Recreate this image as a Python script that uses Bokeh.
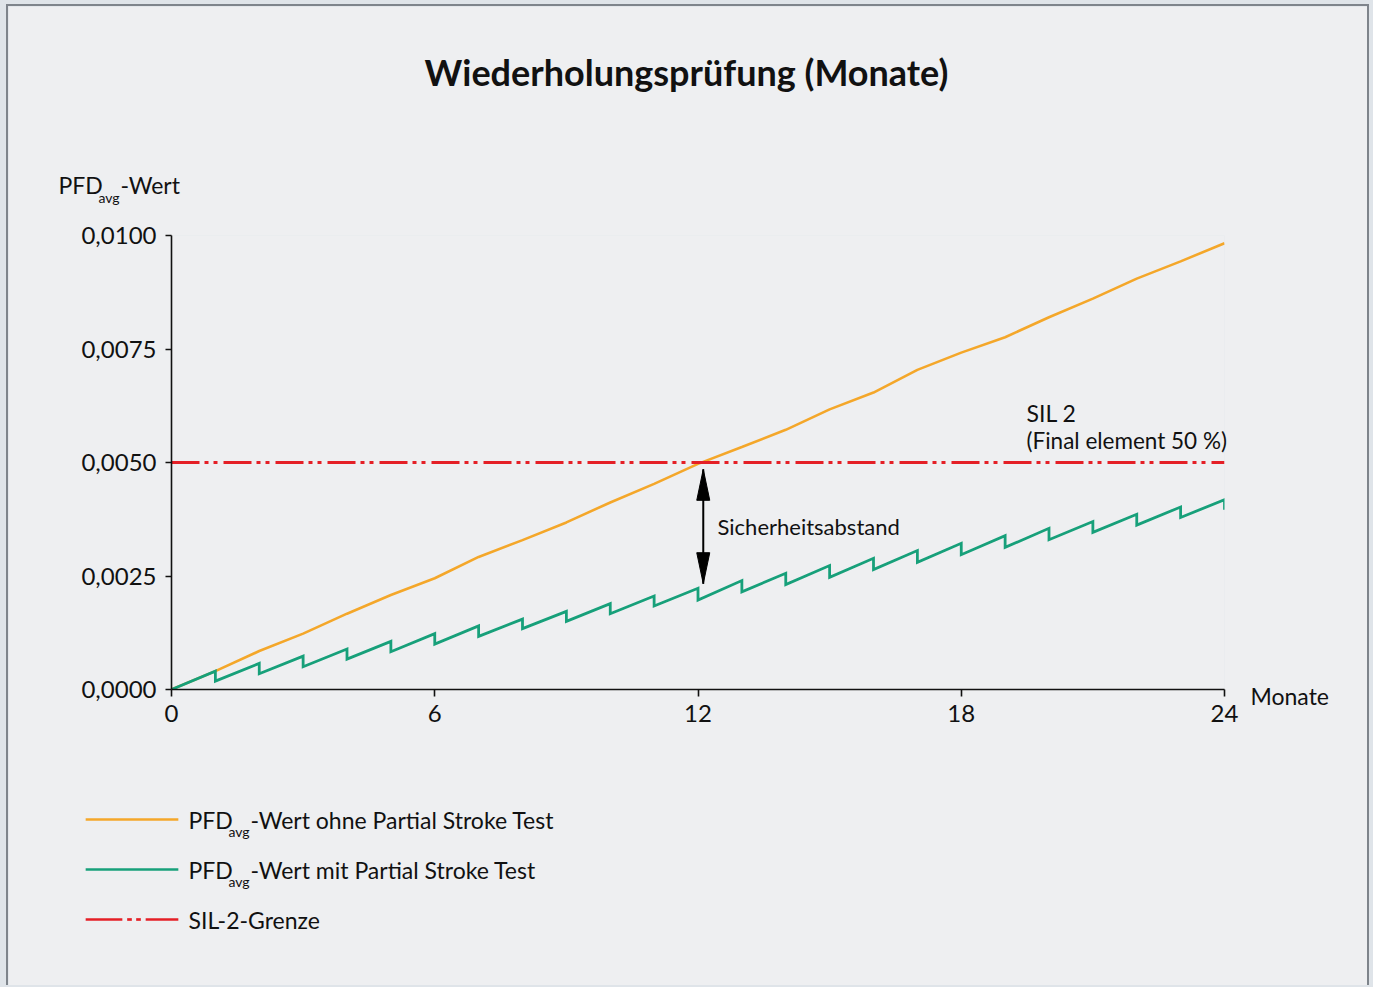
from bokeh.plotting import figure
from bokeh.models import Range1d, FixedTicker, Label
from bokeh.embed import file_html
from bokeh.resources import INLINE

# ---------------- data ----------------
months = list(range(25))
pfd_without = [0.0, 0.000405, 0.000847, 0.00123, 0.00167, 0.00208, 0.00245, 0.00292,
               0.00329, 0.00368, 0.00412, 0.00453, 0.00497, 0.00534, 0.00572, 0.00617,
               0.00654, 0.00704, 0.00742, 0.00776, 0.00820, 0.00861, 0.00905, 0.00943,
               0.00983]
test_months = list(range(1, 25))
pfd_with_peak = [0.000405, 0.000574, 0.000736, 0.000891, 0.00106, 0.00123, 0.00140,
                 0.00155, 0.00172, 0.00189, 0.00206, 0.00223, 0.00240, 0.00256,
                 0.00273, 0.00289, 0.00306, 0.00322, 0.00339, 0.00355, 0.00370,
                 0.00386, 0.00402, 0.00418]
pfd_with_after = [0.000184, 0.000346, 0.000501, 0.00067, 0.000832, 0.00100, 0.00117,
                  0.00134, 0.00150, 0.00167, 0.00184, 0.00197, 0.00215, 0.00231,
                  0.00247, 0.00264, 0.00280, 0.00297, 0.00313, 0.00330, 0.00346,
                  0.00362, 0.00379, 0.00396]
sil2_limit = 0.005
margin_month = 12.12
margin_top = 0.00485
margin_bottom = 0.00233
x_ticks = [0, 6, 12, 18, 24]
x_tick_labels = ["0", "6", "12", "18", "24"]
y_ticks = [0, 0.0025, 0.005, 0.0075, 0.01]
y_tick_labels = ["0,0000", "0,0025", "0,0050", "0,0075", "0,0100"]

FONT = "Lato"
BG = "#eeeff1"
OUTER = "#dfe4e9"
EDGE = "#7e848b"
ORANGE = "#f4a72a"
GREEN = "#17a07a"
RED = "#e41f26"
INK = "#111111"

# ---------------- geometry (page px) ----------------
W = 1363
H = 981
PAGE_X0, PAGE_Y0 = 8, 6
FL, FR, FT, FB = 171, 1224, 235, 689


def px2x(px):
    return (px - FL) / (FR - FL) * 24


def py2y(py):
    return (FB - py) / (FB - FT) * 0.01


p = figure(width=W, height=H, x_range=Range1d(0, 24), y_range=Range1d(0, 0.01),
           output_backend="svg", toolbar_location=None,
           min_border_left=FL - PAGE_X0, min_border_right=PAGE_X0 + W - FR,
           min_border_top=FT - PAGE_Y0, min_border_bottom=PAGE_Y0 + H - FB)
p.background_fill_color = BG
p.border_fill_color = BG
p.outline_line_color = None
p.xgrid.visible = False
p.ygrid.visible = False
p.styles = {"margin-left": "6px", "margin-top": "4px",
            "border-left": "2px solid " + EDGE, "border-right": "2px solid " + EDGE,
            "border-top": "2px solid " + EDGE}

for ax, ticks, labels, tout in ((p.xaxis[0], x_ticks, x_tick_labels, 7),
                                (p.yaxis[0], y_ticks, y_tick_labels, 6)):
    ax.ticker = FixedTicker(ticks=ticks)
    ax.major_label_overrides = {t: l for t, l in zip(ticks, labels)}
    ax.major_tick_out = tout
    ax.major_tick_in = 0
    ax.minor_tick_line_color = None
    ax.axis_line_width = 1.6
    ax.major_tick_line_width = 1.6
    ax.axis_line_color = INK
    ax.major_tick_line_color = INK
    ax.major_label_text_font = FONT
    ax.major_label_text_font_size = "24px"
    ax.major_label_text_color = INK
p.xaxis.major_label_standoff = 8
p.yaxis.major_label_standoff = 9

# ---------------- series ----------------
p.line(months, pfd_without, line_color=ORANGE, line_width=2.6)
gx, gy = [months[0]], [pfd_without[0]]
for m, pk, lo in zip(test_months, pfd_with_peak, pfd_with_after):
    gx += [m, m]
    gy += [pk, lo]
p.line(gx, gy, line_color=GREEN, line_width=2.8, line_join="miter")
p.line([months[0], months[-1]], [sil2_limit, sil2_limit], line_color=RED,
       line_width=3, line_dash="28 5 4 5 4 6")

# double arrow (safety margin)
head_len = 31 / (FB - FT) * 0.01
head_half = 6.5 / (FR - FL) * 24
p.segment([margin_month], [margin_top], [margin_month], [margin_bottom],
          line_color="black", line_width=2)
p.patches([[margin_month, margin_month - head_half, margin_month + head_half],
           [margin_month, margin_month - head_half, margin_month + head_half]],
          [[margin_top, margin_top - head_len, margin_top - head_len],
           [margin_bottom, margin_bottom + head_len, margin_bottom + head_len]],
          fill_color="black", line_color="black", line_width=1)


def lab(text, px, py, size="23px", align="left", style="normal", place="above"):
    p.add_layout(Label(x=px2x(px), y=py2y(py), text=text, text_font=FONT,
                       text_font_size=size, text_align=align, text_baseline="middle",
                       text_font_style=style, text_color=INK), place)


lab("Wiederholungsprüfung (Monate)", 686, 71, size="36px", align="center", style="bold")
lab("PFD", 58, 184)
lab("avg", 98, 197, size="14px")
lab("-Wert", 120, 184)
lab("SIL 2", 1026, 412)
lab("(Final element 50 %)", 1026, 440, size="22.5px")
lab("Sicherheitsabstand", 717, 526, size="22px")
lab("Monate", 1250, 695, place="below")


def legend_stroke(x0, x1, yc, color):
    """A short horizontal legend stroke drawn as a filled label box (outside the frame)."""
    half = int(round((x1 - x0) / 2.0))
    try:
        p.add_layout(Label(x=px2x((x0 + x1) / 2.0), y=py2y(yc), text=" ",
                           text_font_size="2.4px", text_align="center",
                           text_baseline="middle", text_color=color,
                           background_fill_color=color, background_fill_alpha=1.0,
                           padding=dict(left=half, right=half, top=0, bottom=0)),
                     "below")
    except Exception:
        pass


# ---------------- legend ----------------
legend_rows = [
    (ORANGE, [(85, 178)], "PFD", "avg", "-Wert ohne Partial Stroke Test"),
    (GREEN, [(85, 178)], "PFD", "avg", "-Wert mit Partial Stroke Test"),
    (RED, [(85, 122), (127, 131), (136, 140), (145, 178)], "SIL-2-Grenze", None, None),
]
for i, (col, pieces, t1, sub, t2) in enumerate(legend_rows):
    yl = 819 + 50 * i
    for a, b in pieces:
        legend_stroke(a, b, yl, col)
    lab(t1, 188, yl, place="below")
    if sub:
        lab(sub, 228, yl + 12, size="14px", place="below")
        lab(t2, 250, yl, place="below")

html = file_html(p, INLINE)
html = html.replace("</head>",
                    "<style>html, body { background-color: %s !important; }</style></head>" % OUTER, 1)
open("out.html", "w").write(html)
